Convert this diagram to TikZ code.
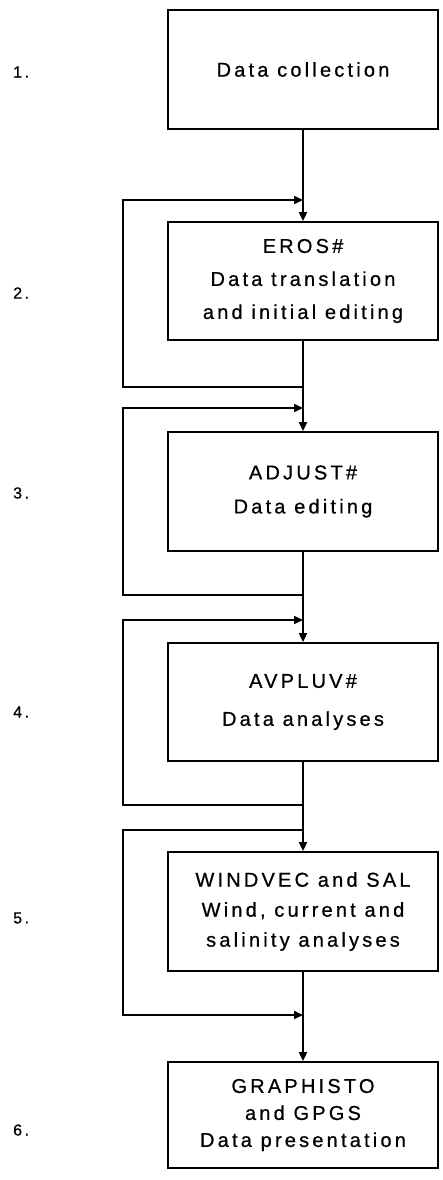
\documentclass[tikz,border=0pt]{standalone}
\usepackage{fontspec}
\setmainfont{Liberation Sans}
\newfontfamily\boxfont[LetterSpace=16,FakeBold=0.7]{Liberation Sans}
\usetikzlibrary{arrows.meta}
\begin{document}
\begin{tikzpicture}[x=1pt,y=-1pt,
  box/.style={draw, line width=1.8pt, minimum width=270pt, inner sep=0pt, align=center},
  pitch/.style={font=\boxfont\fontsize{20}{#1}\selectfont},
  ln/.style={line width=1.8pt},
  arr/.style={ln, -{Triangle[length=9pt,width=8pt]}},
  num/.style={anchor=west, inner sep=0pt, font=\boxfont\fontsize{16}{18}\selectfont}]
\useasboundingbox (0,0) rectangle (443,1180);

% boxes
\node[box, pitch=31, minimum height=119pt] (b1) at (303,69.5) {Data collection};
\node[box, pitch=33, minimum height=118pt] (b2) at (303,281) {EROS\#\\Data translation\\and initial editing};
\node[box, pitch=34, minimum height=119pt] (b3) at (303,491.5) {ADJUST\#\\Data editing};
\node[box, pitch=38, minimum height=118pt] (b4) at (303,702) {AVPLUV\#\\Data analyses};
\node[box, pitch=30, minimum height=119pt] (b5) at (303,911.5) {WINDVEC and SAL\\Wind, current and\\salinity analyses};
\node[box, pitch=27, minimum height=106pt] (b6) at (303,1115) {GRAPHISTO\\and GPGS\\Data presentation};

% step numbers
\node[num] (n1) at (13,72) {1.};
\node[num] (n2) at (13,293) {2.};
\node[num] (n3) at (13,493) {3.};
\node[num] (n4) at (13,712) {4.};
\node[num] (n5) at (13,918) {5.};
\node[num] (n6) at (13,1130) {6.};

% main flow
\draw[arr] (b1.south) -- (b2.north);
\draw[arr] (b2.south) -- (b3.north);
\draw[arr] (b3.south) -- (b4.north);
\draw[arr] (b4.south) -- (b5.north);
\draw[arr] (b5.south) -- (b6.north);

% loop junctions on the main line
\coordinate (f1s) at (303,387);  \coordinate (f1e) at (303,200);
\coordinate (f2s) at (303,595);  \coordinate (f2e) at (303,408);
\coordinate (f3s) at (303,805);  \coordinate (f3e) at (303,620);
\coordinate (f4s) at (303,830);  \coordinate (f4e) at (303,1015);

\draw[arr] (f1s) -- ++(-180,0) |- (f1e);
\draw[arr] (f2s) -- ++(-180,0) |- (f2e);
\draw[arr] (f3s) -- ++(-180,0) |- (f3e);
\draw[arr] (f4s) -- ++(-180,0) |- (f4e);
\end{tikzpicture}
\end{document}
